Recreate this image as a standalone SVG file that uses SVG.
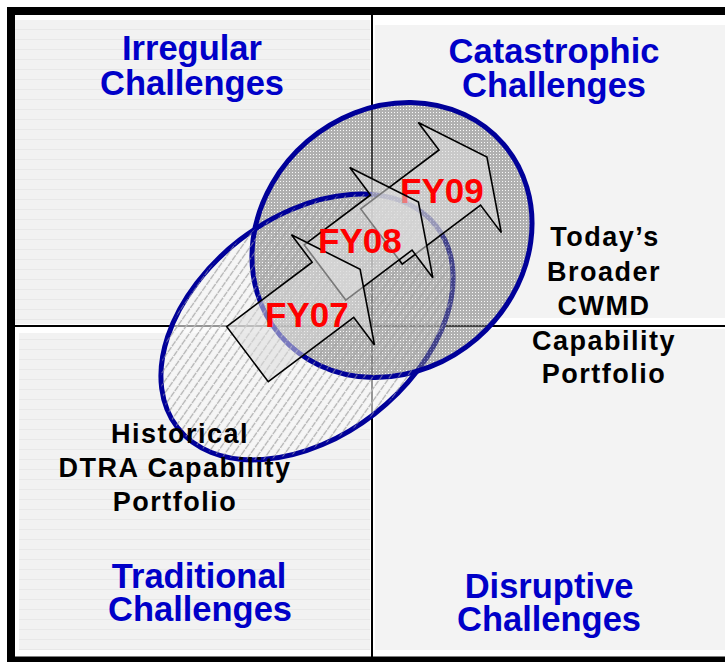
<svg xmlns="http://www.w3.org/2000/svg" width="725" height="662" viewBox="0 0 725 662">
<style>
.blue{font-family:"Liberation Sans",Arial,sans-serif;font-weight:bold;font-size:34.5px;fill:#0000c8;text-anchor:middle}
.blk{font-family:"Liberation Sans",Arial,sans-serif;font-weight:bold;font-size:27px;fill:#000;text-anchor:middle;letter-spacing:1.5px}
.fy{font-family:"Liberation Sans",Arial,sans-serif;font-weight:bold;font-size:35px;fill:#ff0000}
.arrow{fill:#dcdcdc;fill-opacity:0.55;stroke:#000;stroke-width:1.6;stroke-linejoin:miter}
.ell{fill:none;stroke:#000099;stroke-width:5}
.div{stroke:#000;stroke-width:2}
</style>
<defs>
<pattern id="stripes" patternUnits="userSpaceOnUse" width="10" height="10">
<rect width="10" height="10" fill="#f2f2f2"/>
<rect y="9" width="10" height="1" fill="#e8e8e8"/>
</pattern>
<pattern id="hatch" patternUnits="userSpaceOnUse" width="7" height="7" patternTransform="rotate(35)">
<rect width="7" height="7" fill="#f8f8f8" fill-opacity="0.6"/>
<line x1="3.5" y1="0" x2="3.5" y2="7" stroke="#b4b4b4" stroke-width="1.2" stroke-dasharray="3 1"/>
</pattern>
<pattern id="hatchOnly" patternUnits="userSpaceOnUse" width="7" height="7" patternTransform="rotate(35)">
<line x1="3.5" y1="0" x2="3.5" y2="7" stroke="#b8b8b8" stroke-width="1.1" stroke-dasharray="3 1"/>
</pattern>
<pattern id="dots" patternUnits="userSpaceOnUse" width="3" height="3">
<rect width="3" height="3" fill="#7a7a7a"/>
<rect x="1" y="1" width="1" height="1" fill="#ffffff"/>
</pattern>
<clipPath id="leftHalf"><rect x="0" y="0" width="372" height="662"/></clipPath>
<clipPath id="rightHalf"><rect x="372" y="0" width="353" height="662"/></clipPath>
<clipPath id="clipA"><ellipse cx="0" cy="0" rx="147" ry="130" transform="translate(392,240) rotate(-40.7)"/></clipPath>
<clipPath id="clipB"><ellipse cx="0" cy="0" rx="164" ry="110" transform="translate(307,327) rotate(-37.8)"/></clipPath>
</defs>

<rect width="725" height="662" fill="#ffffff"/>

<g id="quadrant-irregular">
<rect x="15" y="20" width="355" height="304" fill="url(#stripes)"/>
</g>
<g id="quadrant-catastrophic">
<rect x="375" y="25" width="350" height="293" fill="#f3f3f3"/>
</g>
<g id="quadrant-traditional">
<rect x="19" y="333" width="351" height="317" fill="url(#stripes)"/>
</g>
<g id="quadrant-disruptive">
<rect x="375" y="329" width="350" height="321" fill="#f3f3f3"/>
</g>

<g id="frame">
<line class="div" x1="372" y1="15" x2="372" y2="657"/>
<line class="div" x1="15" y1="326" x2="725" y2="326"/>
<rect x="7" y="7" width="718" height="8" fill="#000"/>
<rect x="7" y="7" width="8" height="655" fill="#000"/>
<rect x="7" y="656.5" width="718" height="6" fill="#000"/>
</g>

<g id="historical-portfolio">
<rect x="0" y="0" width="725" height="662" fill="url(#hatch)" clip-path="url(#clipB)"/>
</g>
<g id="todays-portfolio">
<g clip-path="url(#leftHalf)">
<rect x="0" y="0" width="725" height="662" fill="url(#dots)" fill-opacity="0.55" clip-path="url(#clipA)"/>
</g>
</g>
<g id="historical-outline">
<ellipse class="ell" cx="0" cy="0" rx="164" ry="110" transform="translate(307,327) rotate(-37.8)"/>
</g>
<g id="todays-outline">
<g clip-path="url(#rightHalf)">
<rect x="0" y="0" width="725" height="662" fill="url(#dots)" fill-opacity="0.55" clip-path="url(#clipA)"/>
</g>
<ellipse class="ell" cx="0" cy="0" rx="147" ry="130" transform="translate(392,240) rotate(-40.7)"/>
<rect x="0" y="0" width="725" height="662" fill="url(#hatchOnly)" clip-path="url(#clipB)" opacity="0.55"/>
</g>

<g id="connectors"></g>

<g id="arrow-fy09">
<polygon class="arrow" transform="translate(381.5,236.5) rotate(-37)" points="0,-34.5 98,-34.5 98,-69 132,0 98,69 98,34.5 0,34.5"/>
<text class="fy" x="400" y="203">FY09</text>
</g>
<g id="arrow-fy08">
<polygon class="arrow" transform="translate(325,272.5) rotate(-37)" points="0,-34.5 83,-34.5 83,-69 117,0 83,69 83,34.5 0,34.5"/>
</g>
<g id="arrow-fy07">
<polygon class="arrow" transform="translate(247.5,354.2) rotate(-37)" points="0,-34.5 107,-34.5 107,-69 141,0 107,69 107,34.5 0,34.5"/>
</g>
<g id="fy-labels">
<text class="fy" x="318" y="253">FY08</text>
<text class="fy" x="265" y="327">FY07</text>
</g>

<g id="label-irregular">
<text class="blue" x="192" y="60">Irregular</text>
<text class="blue" x="192" y="95">Challenges</text>
</g>
<g id="label-catastrophic">
<text class="blue" x="554" y="63">Catastrophic</text>
<text class="blue" x="554" y="97">Challenges</text>
</g>
<g id="label-traditional">
<text class="blue" x="199" y="588">Traditional</text>
<text class="blue" x="200" y="621">Challenges</text>
</g>
<g id="label-disruptive">
<text class="blue" x="549" y="598">Disruptive</text>
<text class="blue" x="549" y="631">Challenges</text>
</g>
<g id="label-todays">
<text class="blk" x="605" y="246">Today’s</text>
<text class="blk" x="604" y="281">Broader</text>
<text class="blk" x="604" y="315">CWMD</text>
<text class="blk" x="604" y="350">Capability</text>
<text class="blk" x="604" y="383">Portfolio</text>
</g>
<g id="label-historical">
<text class="blk" x="180" y="443">Historical</text>
<text class="blk" x="175" y="477">DTRA Capability</text>
<text class="blk" x="175" y="511">Portfolio</text>
</g>
</svg>
